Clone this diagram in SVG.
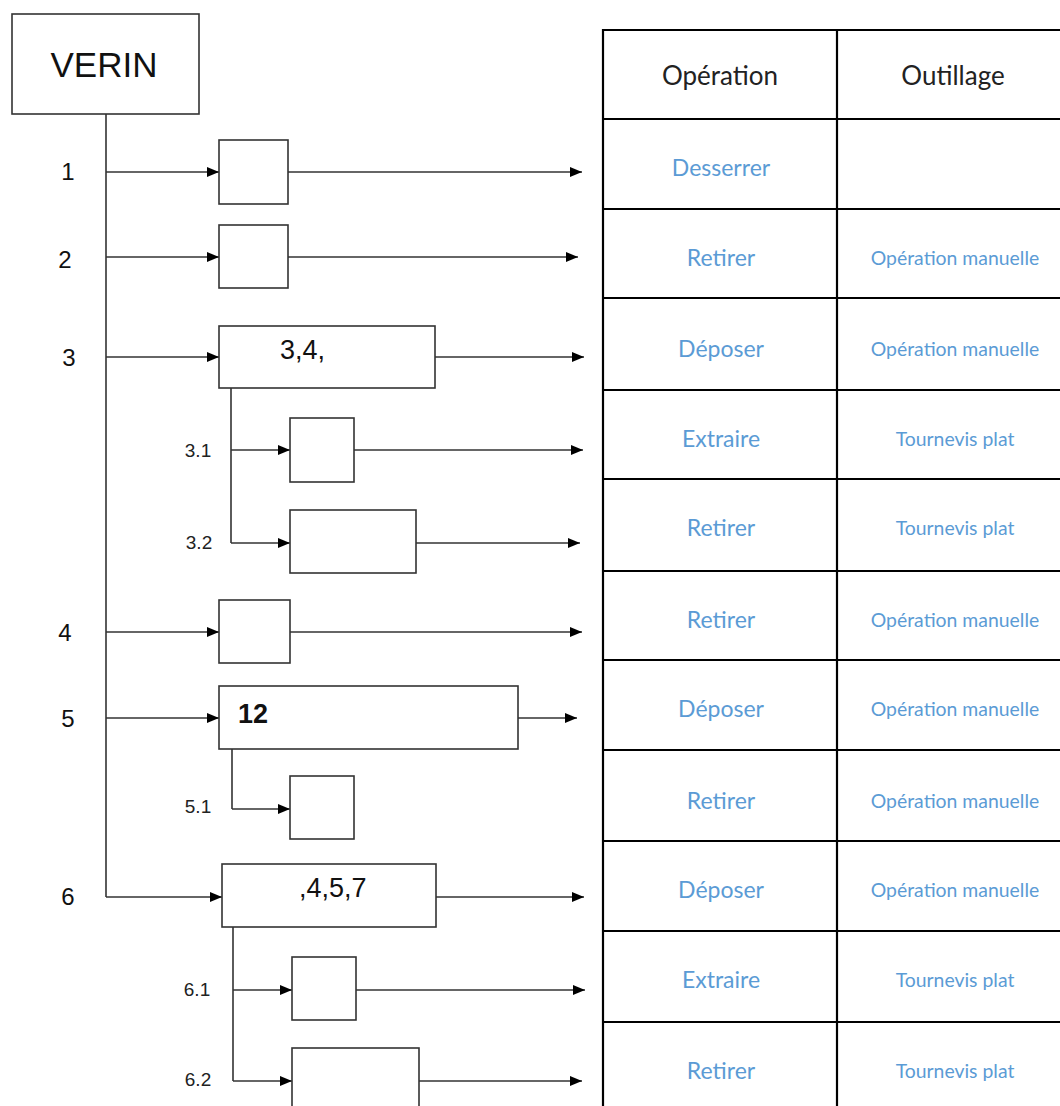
<svg xmlns="http://www.w3.org/2000/svg" width="1060" height="1106" viewBox="0 0 1060 1106">
<defs>
<marker id="ah" markerUnits="userSpaceOnUse" markerWidth="12" markerHeight="10" refX="12" refY="5" orient="auto">
<path d="M0,0 L12,5 L0,10 z" fill="#000"/>
</marker>
<style>
.box{fill:#fff;stroke:#333;stroke-width:1.6}
.ln{fill:none;stroke:#333;stroke-width:1.6}
.ar{fill:none;stroke:#333;stroke-width:1.6;marker-end:url(#ah)}
.lbl{font-family:"Liberation Sans",Arial,sans-serif;font-size:24px;fill:#111;text-anchor:middle;dominant-baseline:central}
.sub{font-family:"Liberation Sans",Arial,sans-serif;font-size:19px;fill:#222;text-anchor:middle;dominant-baseline:central}
.bt{font-family:"Liberation Sans",Arial,sans-serif;font-size:27px;fill:#111;dominant-baseline:central}
.vt{font-family:"Liberation Sans",Arial,sans-serif;font-size:35px;fill:#111;text-anchor:middle;dominant-baseline:central}
.tl{stroke:#000;stroke-width:2.2}
.hd{font-family:Lato,"Open Sans",sans-serif;font-size:26px;fill:#222;text-anchor:middle;dominant-baseline:central}
.op{font-family:Lato,"Open Sans",sans-serif;font-size:23px;fill:#5b9bd5;text-anchor:middle;dominant-baseline:central}
.ou{font-family:Lato,"Open Sans",sans-serif;font-size:19.4px;fill:#5b9bd5;text-anchor:middle;dominant-baseline:central}
</style>
</defs>
<rect width="1060" height="1106" fill="#fff"/>

<g id="connectors">
<path class="ln" d="M106,114 V897"/>
<path class="ar" d="M106,172 H219"/>
<path class="ar" d="M288,172 H582"/>
<path class="ar" d="M106,257 H219"/>
<path class="ar" d="M288,257 H578"/>
<path class="ar" d="M106,357 H219"/>
<path class="ar" d="M435,357 H584"/>
<path class="ln" d="M231,388 V543"/>
<path class="ar" d="M231,450 H290"/>
<path class="ar" d="M354,450 H583"/>
<path class="ar" d="M231,543 H290"/>
<path class="ar" d="M416,543 H580"/>
<path class="ar" d="M106,632 H219"/>
<path class="ar" d="M290,632 H582"/>
<path class="ar" d="M106,718 H219"/>
<path class="ar" d="M518,718 H577"/>
<path class="ln" d="M232,749 V809"/>
<path class="ar" d="M232,809 H290"/>
<path class="ar" d="M106,897 H222"/>
<path class="ar" d="M436,897 H584"/>
<path class="ln" d="M233,927 V1081"/>
<path class="ar" d="M233,990 H292"/>
<path class="ar" d="M356,990 H585"/>
<path class="ar" d="M233,1081 H292"/>
<path class="ar" d="M419,1081 H582"/>
</g>

<g id="verin"><rect class="box" x="12" y="14" width="187" height="100"/><text class="vt" x="104" y="64">VERIN</text></g>

<g id="labels">
<text class="lbl" x="68" y="171">1</text>
<text class="lbl" x="65" y="259">2</text>
<text class="lbl" x="69" y="357">3</text>
<text class="sub" x="198" y="450">3.1</text>
<text class="sub" x="199" y="542">3.2</text>
<text class="lbl" x="65" y="632">4</text>
<text class="lbl" x="68" y="718">5</text>
<text class="sub" x="198" y="806">5.1</text>
<text class="lbl" x="68" y="896">6</text>
<text class="sub" x="197" y="989">6.1</text>
<text class="sub" x="198" y="1079">6.2</text>
</g>

<g id="n1"><rect class="box" x="219" y="140" width="69" height="64"/></g>
<g id="n2"><rect class="box" x="219" y="225" width="69" height="63"/></g>
<g id="n3"><rect class="box" x="219" y="326" width="216" height="62"/><text class="bt" x="280" y="350">3,4,</text></g>
<g id="n31"><rect class="box" x="290" y="418" width="64" height="64"/></g>
<g id="n32"><rect class="box" x="290" y="510" width="126" height="63"/></g>
<g id="n4"><rect class="box" x="219" y="600" width="71" height="63"/></g>
<g id="n5"><rect class="box" x="219" y="686" width="299" height="63"/><text class="bt" x="238" y="714" font-weight="bold">12</text></g>
<g id="n51"><rect class="box" x="290" y="776" width="64" height="63"/></g>
<g id="n6"><rect class="box" x="222" y="864" width="214" height="63"/><text class="bt" x="299" y="888">,4,5,7</text></g>
<g id="n61"><rect class="box" x="292" y="957" width="64" height="63"/></g>
<g id="n62"><rect class="box" x="292" y="1048" width="127" height="70"/></g>

<g id="table">
<path class="tl" d="M603,29 V1106 M837,29 V1106"/>
<path class="tl" d="M602,30 H1062 M602,119 H1062 M602,209 H1062 M602,298 H1062 M602,390 H1062 M602,479 H1062 M602,571 H1062 M602,660 H1062 M602,750 H1062 M602,841 H1062 M602,931 H1062 M602,1022 H1062"/>
<text class="hd" x="720" y="75">Opération</text>
<text class="hd" x="953" y="75">Outillage</text>
<text class="op" x="721" y="167">Desserrer</text>
<text class="op" x="721" y="257">Retirer</text><text class="ou" x="955" y="257">Opération manuelle</text>
<text class="op" x="721" y="348">Déposer</text><text class="ou" x="955" y="348">Opération manuelle</text>
<text class="op" x="721" y="438">Extraire</text><text class="ou" x="955" y="438">Tournevis plat</text>
<text class="op" x="721" y="527">Retirer</text><text class="ou" x="955" y="527">Tournevis plat</text>
<text class="op" x="721" y="619">Retirer</text><text class="ou" x="955" y="619">Opération manuelle</text>
<text class="op" x="721" y="708">Déposer</text><text class="ou" x="955" y="708">Opération manuelle</text>
<text class="op" x="721" y="800">Retirer</text><text class="ou" x="955" y="800">Opération manuelle</text>
<text class="op" x="721" y="889">Déposer</text><text class="ou" x="955" y="889">Opération manuelle</text>
<text class="op" x="721" y="979">Extraire</text><text class="ou" x="955" y="979">Tournevis plat</text>
<text class="op" x="721" y="1070">Retirer</text><text class="ou" x="955" y="1070">Tournevis plat</text>
</g>
</svg>
